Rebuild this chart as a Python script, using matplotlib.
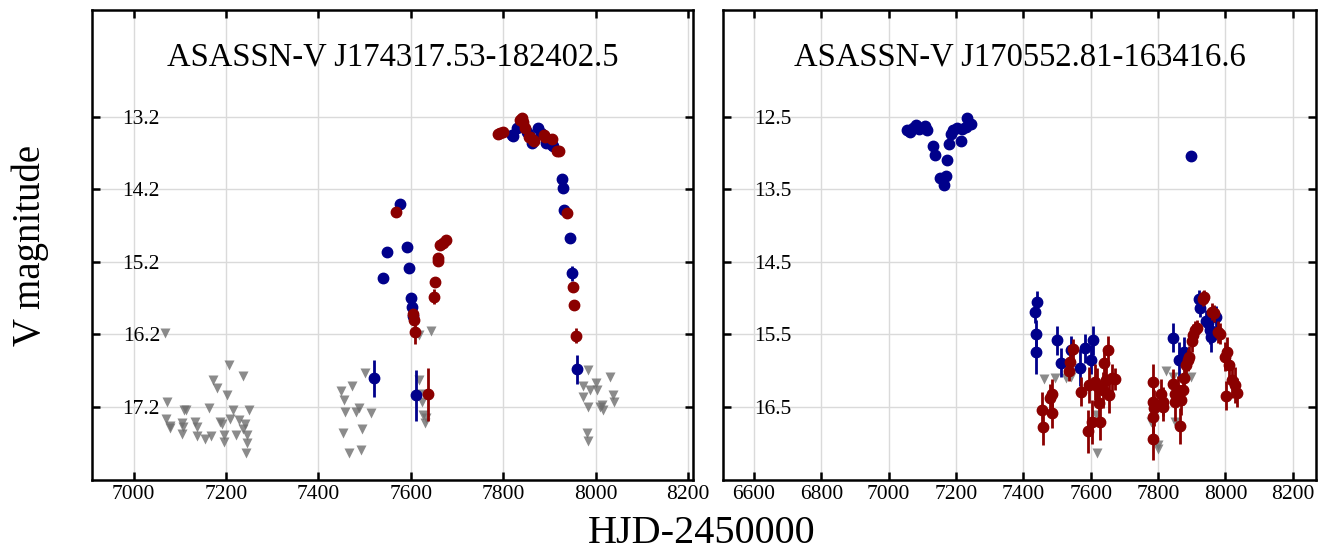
import matplotlib
matplotlib.use('Agg')
import matplotlib.pyplot as plt

plt.rcParams['font.family'] = ['Liberation Serif', 'DejaVu Serif']

# ---- left star: ASASSN-V J174317.53-182402.5 ----
lim1_x = [7069, 7072, 7071, 7078, 7080, 7110, 7114, 7105, 7107, 7105, 7134, 7137,
          7137, 7155, 7167, 7164, 7173, 7180, 7202, 7207, 7237, 7188, 7191, 7196,
          7196, 7209, 7216, 7222, 7229, 7237, 7242, 7245, 7245, 7251, 7244,
          7449, 7472, 7501, 7456, 7458, 7482, 7489, 7514, 7453, 7494, 7467, 7492,
          7617, 7644, 7618, 7620, 7624, 7627, 7633, 7631,
          7984, 7972, 8001, 8004, 7988, 7974, 7984, 8013, 8017, 8031, 8037, 8040,
          7981, 7984, 8010]
lim1_y = [16.18, 17.14, 17.37, 17.47, 17.49, 17.25, 17.24, 17.43, 17.48, 17.58, 17.41, 17.48,
          17.60, 17.64, 17.60, 17.22, 16.83, 16.94, 17.04, 16.63, 16.78, 17.41, 17.44, 17.59,
          17.68, 17.37, 17.25, 17.59, 17.38, 17.50, 17.44, 17.59, 17.70, 17.24, 17.84,
          16.98, 16.92, 16.74, 17.11, 17.27, 17.27, 17.22, 17.28, 17.56, 17.51, 17.84, 17.79,
          16.21, 16.16, 16.83, 17.02, 17.13, 17.31, 17.36, 17.43,
          16.69, 16.91, 16.87, 16.97, 16.97, 17.06, 17.20, 17.18, 17.25, 16.79, 17.04, 17.13,
          17.56, 17.67, 17.20]

b1_x = [7521, 7540, 7548, 7576, 7593, 7597, 7601, 7603, 7604, 7612,
        7819, 7821, 7830, 7851, 7855, 7862, 7876, 7881, 7893, 7905, 7908,
        7927, 7930, 7932, 7945, 7950, 7961]
b1_y = [16.81, 15.43, 15.06, 14.40, 15.00, 15.29, 15.70, 15.82, 15.95, 17.04,
        13.45, 13.46, 13.36, 13.41, 13.45, 13.56, 13.35, 13.42, 13.57, 13.59, 13.60,
        14.06, 14.19, 14.49, 14.87, 15.36, 16.68]
b1_e = [0.25, 0.06, 0.05, 0.02, 0.05, 0.06, 0.07, 0.04, 0.04, 0.35,
        0.02, 0.02, 0.02, 0.02, 0.02, 0.02, 0.02, 0.02, 0.02, 0.02, 0.02,
        0.02, 0.02, 0.02, 0.05, 0.1, 0.2]

r1_x = [7568, 7604, 7607, 7610, 7638, 7651, 7653, 7658, 7660, 7664, 7669, 7677,
        7790, 7794, 7799, 7837, 7840, 7843, 7848, 7855, 7858, 7864, 7866,
        7888, 7891, 7905, 7917, 7920, 7939, 7952, 7954, 7958]
r1_y = [14.51, 15.92, 16.00, 16.17, 17.03, 15.68, 15.48, 15.19, 15.15, 14.97, 14.94, 14.90,
        13.44, 13.42, 13.41, 13.25, 13.22, 13.28, 13.36, 13.48, 13.48, 13.52, 13.53,
        13.45, 13.48, 13.51, 13.67, 13.68, 14.53, 15.55, 15.80, 16.22]
r1_e = [0.03, 0.05, 0.06, 0.16, 0.36, 0.1, 0.04, 0.04, 0.04, 0.03, 0.03, 0.03,
        0.02, 0.02, 0.02, 0.02, 0.02, 0.02, 0.02, 0.02, 0.02, 0.02, 0.02,
        0.02, 0.02, 0.02, 0.02, 0.02, 0.03, 0.03, 0.04, 0.1]

# ---- right star: ASASSN-V J170552.81-163416.6 ----
lim2_x = [7460, 7493, 7526, 7540, 7616, 7618, 7824, 7844, 7898, 7779, 7799, 7849, 7800]
lim2_y = [16.12, 16.10, 16.11, 16.09, 16.61, 17.14, 16.00, 16.09, 16.09, 16.71, 17.03, 16.71, 17.08]

b2_x = [7053, 7063, 7071, 7081, 7090, 7107, 7114, 7132, 7138, 7152, 7164, 7170,
        7174, 7178, 7184, 7192, 7202, 7216, 7219, 7229, 7233, 7245, 7899,
        7440, 7435, 7438, 7438, 7500, 7513, 7542, 7567, 7582, 7600, 7606,
        7844, 7861, 7878, 7921, 7925, 7941, 7948, 7953, 7958, 7972]
b2_y = [12.69, 12.71, 12.66, 12.61, 12.67, 12.63, 12.68, 12.91, 13.03, 13.35, 13.44, 13.32,
        13.10, 12.88, 12.74, 12.68, 12.66, 12.84, 12.67, 12.64, 12.52, 12.60, 13.04,
        15.05, 15.20, 15.50, 15.75, 15.58, 15.89, 15.72, 15.96, 15.69, 15.85, 15.58,
        15.55, 15.86, 15.74, 15.01, 15.14, 15.32, 15.35, 15.44, 15.54, 15.26]
b2_e = [0.02] * 23 + [0.15, 0.15, 0.2, 0.3, 0.2, 0.2, 0.2, 0.25, 0.2, 0.2, 0.2,
                      0.2, 0.25, 0.2, 0.12, 0.12, 0.15, 0.15, 0.2, 0.2, 0.15]

r2_x = [7456, 7459, 7480, 7486, 7486, 7535, 7537, 7547, 7571, 7591, 7596, 7604,
        7614, 7620, 7625, 7628, 7635, 7640, 7646, 7652, 7654, 7662, 7672,
        7784, 7784, 7784, 7786, 7789, 7809, 7814, 7816, 7844, 7849, 7849, 7859,
        7866, 7869, 7874, 7876, 7884, 7889, 7892, 7902, 7904, 7909, 7916, 7934,
        7936, 7959, 7966, 7979, 7984, 7999, 8006, 8012, 8002, 8019, 8029, 8034]
r2_y = [16.55, 16.78, 16.38, 16.32, 16.59, 16.00, 15.88, 15.71, 16.29, 16.84, 16.20, 16.71,
        16.16, 16.22, 16.45, 16.71, 16.27, 15.90, 16.13, 15.72, 16.34, 16.11, 16.12,
        16.16, 16.43, 16.64, 16.94, 16.52, 16.32, 16.50, 16.43, 16.18, 16.32, 16.44, 16.27,
        16.77, 16.41, 16.27, 16.11, 15.92, 15.86, 15.81, 15.59, 15.51, 15.44, 15.42, 15.01,
        14.99, 15.19, 15.21, 15.47, 15.49, 15.81, 15.74, 15.92, 16.35, 16.13, 16.20, 16.31]
r2_e = [0.25, 0.25, 0.2, 0.2, 0.2, 0.15, 0.15, 0.15, 0.2, 0.3, 0.25, 0.3,
        0.25, 0.25, 0.25, 0.25, 0.25, 0.2, 0.25, 0.2, 0.25, 0.2, 0.15,
        0.25, 0.25, 0.25, 0.3, 0.25, 0.2, 0.2, 0.2, 0.2, 0.2, 0.25, 0.2,
        0.25, 0.2, 0.2, 0.2, 0.15, 0.15, 0.15, 0.15, 0.15, 0.12, 0.12, 0.1,
        0.1, 0.12, 0.12, 0.15, 0.15, 0.2, 0.2, 0.2, 0.2, 0.25, 0.25, 0.2]

panels = [
    dict(title='ASASSN-V J174317.53-182402.5', lim=(lim1_x, lim1_y),
         blue=(b1_x, b1_y, b1_e), red=(r1_x, r1_y, r1_e),
         xlim=(6910, 8211), ylim=(18.21, 11.73),
         xticks=[7000, 7200, 7400, 7600, 7800, 8000, 8200],
         yticks=[13.2, 14.2, 15.2, 16.2, 17.2],
         rect=[0.0695, 0.1304, 0.4543, 0.8514]),
    dict(title='ASASSN-V J170552.81-163416.6', lim=(lim2_x, lim2_y),
         blue=(b2_x, b2_y, b2_e), red=(r2_x, r2_y, r2_e),
         xlim=(6508, 8269), ylim=(17.51, 11.03),
         xticks=[6600, 6800, 7000, 7200, 7400, 7600, 7800, 8000, 8200],
         yticks=[12.5, 13.5, 14.5, 15.5, 16.5],
         rect=[0.5465, 0.1304, 0.4482, 0.8514]),
]

fig = plt.figure(figsize=(13.23, 5.52), dpi=100)

for p in panels:
    ax = fig.add_axes(p['rect'])
    # upper limits first, detections on top
    ax.plot(p['lim'][0], p['lim'][1], 'v', color='#6e6e6e', alpha=0.8,
            ms=7.5, mec='none', zorder=2)
    bx, by, be = p['blue']
    ax.errorbar(bx, by, yerr=be, fmt='o', color='#00008b', ms=7.5,
                elinewidth=2.0, capsize=0, zorder=3)
    rx, ry, re = p['red']
    ax.errorbar(rx, ry, yerr=re, fmt='o', color='#8b0000', ms=7.5,
                elinewidth=2.0, capsize=0, zorder=4)

    ax.set_xlim(p['xlim'])
    ax.set_ylim(p['ylim'])
    ax.set_xticks(p['xticks'])
    ax.set_yticks(p['yticks'])
    ax.set_yticklabels([f'{v:.1f}' for v in p['yticks']])
    ax.grid(True, color='#dadada', linewidth=1.0, zorder=0)
    ax.set_axisbelow(True)
    ax.tick_params(direction='in', top=True, right=True, length=6, width=1.8,
                   labelsize=15.5)
    ax.tick_params(axis='y', pad=-49)
    for s in ax.spines.values():
        s.set_linewidth(1.8)
    ax.text(0.5, 0.9, p['title'], transform=ax.transAxes, ha='center',
            va='center', fontsize=23.5)

fig.text(0.53, 0.034, 'HJD-2450000', ha='center', va='center', fontsize=29)
fig.text(0.023, 0.556, 'V magnitude', ha='center', va='center', fontsize=28,
         rotation=90)

fig.savefig('out.png', dpi=100)
